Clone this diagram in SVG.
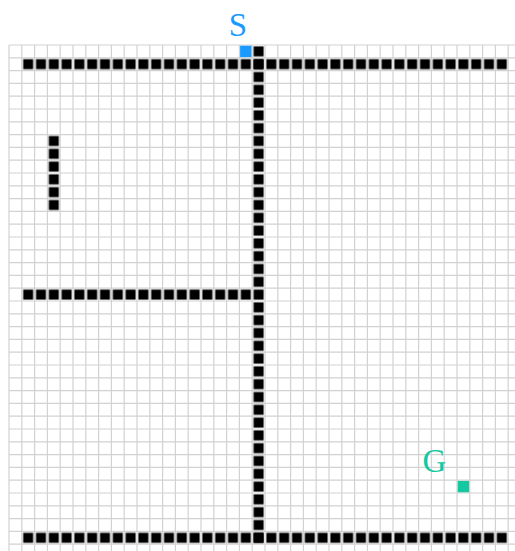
<svg xmlns="http://www.w3.org/2000/svg" width="515" height="551" viewBox="0 0 515 551">
  <defs>
    <pattern id="wallPat" patternUnits="userSpaceOnUse" x="9" y="45" width="12.8" height="12.8">
      <rect x="1.4" y="1.4" width="10" height="10" fill="#000"/>
    </pattern>
  </defs>
  <style>
    .grid { stroke: #d2d2d2; stroke-width: 1.2; fill: none; }
    .wall { fill: url(#wallPat); }
    .lbl { font-family: "Liberation Serif", "Times New Roman", serif; font-size: 33px; text-anchor: middle; }
  </style>
  <rect width="515" height="551" fill="#fff"/>
  <g id="grid">
    <path class="grid" d="M9 45H521M9 57.8H521M9 70.6H521M9 83.4H521M9 96.2H521M9 109H521M9 121.8H521M9 134.6H521M9 147.4H521M9 160.2H521M9 173H521M9 185.8H521M9 198.6H521M9 211.4H521M9 224.2H521M9 237H521M9 249.8H521M9 262.6H521M9 275.4H521M9 288.2H521M9 301H521M9 313.8H521M9 326.6H521M9 339.4H521M9 352.2H521M9 365H521M9 377.8H521M9 390.6H521M9 403.4H521M9 416.2H521M9 429H521M9 441.8H521M9 454.6H521M9 467.4H521M9 480.2H521M9 493H521M9 505.8H521M9 518.6H521M9 531.4H521M9 544.2H521"/>
    <path class="grid" d="M9 45V557M21.8 45V557M34.6 45V557M47.4 45V557M60.2 45V557M73 45V557M85.8 45V557M98.6 45V557M111.4 45V557M124.2 45V557M137 45V557M149.8 45V557M162.6 45V557M175.4 45V557M188.2 45V557M201 45V557M213.8 45V557M226.6 45V557M239.4 45V557M252.2 45V557M265 45V557M277.8 45V557M290.6 45V557M303.4 45V557M316.2 45V557M329 45V557M341.8 45V557M354.6 45V557M367.4 45V557M380.2 45V557M393 45V557M405.8 45V557M418.6 45V557M431.4 45V557M444.2 45V557M457 45V557M469.8 45V557M482.6 45V557M495.4 45V557M508.2 45V557"/>
  </g>
  <g id="walls">
    <rect class="wall" x="21.8" y="57.8" width="486.4" height="12.8"/>
    <rect class="wall" x="252.2" y="45" width="12.8" height="499.2"/>
    <rect class="wall" x="21.8" y="288.2" width="230.4" height="12.8"/>
    <rect class="wall" x="21.8" y="531.4" width="486.4" height="12.8"/>
    <rect class="wall" x="47.4" y="134.6" width="12.8" height="76.8"/>
  </g>
  <g id="start">
    <rect x="240.1" y="45.7" width="11.4" height="11.4" fill="#1a9aff"/>
    <text class="lbl" x="238" y="36" fill="#1a9aff">S</text>
  </g>
  <g id="goal">
    <rect x="457.7" y="480.9" width="11.4" height="11.4" fill="#14c8a0"/>
    <text class="lbl" x="434.5" y="472" fill="#14c8a0">G</text>
  </g>
</svg>
